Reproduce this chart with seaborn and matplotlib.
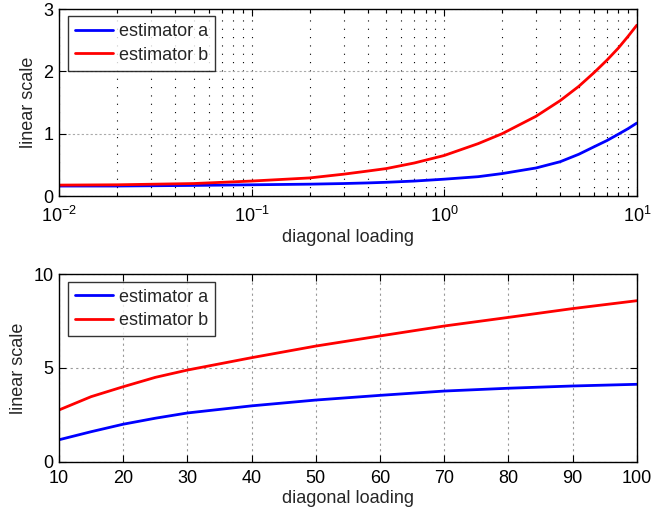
import numpy as np
import pandas as pd
import matplotlib
matplotlib.use("Agg")
import matplotlib.pyplot as plt
import seaborn as sns

# Top panel: loading on a log axis
load_log = [0.01, 0.02, 0.05, 0.1, 0.2, 0.3, 0.4, 0.5, 0.7, 1.0, 1.5, 2.0, 3.0, 4.0, 5.0, 6.0, 7.0, 8.0, 9.0, 10.0]
est_a_log = [0.16, 0.16, 0.17, 0.18, 0.19, 0.20, 0.21, 0.22, 0.24, 0.27, 0.31, 0.36, 0.45, 0.55, 0.67, 0.79, 0.89, 0.99, 1.08, 1.17]
est_b_log = [0.175, 0.18, 0.20, 0.24, 0.29, 0.35, 0.40, 0.44, 0.53, 0.65, 0.84, 1.00, 1.28, 1.53, 1.76, 1.98, 2.18, 2.37, 2.56, 2.74]

# Bottom panel: loading on a linear axis
load_lin = [10, 15, 20, 25, 30, 40, 50, 60, 70, 80, 90, 100]
est_a_lin = [1.17, 1.60, 2.00, 2.32, 2.60, 2.98, 3.29, 3.54, 3.77, 3.92, 4.04, 4.13]
est_b_lin = [2.76, 3.47, 4.00, 4.50, 4.89, 5.55, 6.17, 6.71, 7.24, 7.70, 8.17, 8.59]

series_names = ["estimator a", "estimator b"]
series_colors = {"estimator a": "#0000ff", "estimator b": "#ff0000"}

sns.set_style("ticks")
plt.rcParams["font.family"] = ["Liberation Sans", "DejaVu Sans"]
plt.rcParams["mathtext.fontset"] = "custom"
plt.rcParams["mathtext.rm"] = "Liberation Sans"
plt.rcParams["mathtext.it"] = "Liberation Sans:italic"
FS = 13


def long_frame(x, a, b):
    return pd.DataFrame({
        "x": list(x) * 2,
        "y": list(a) + list(b),
        "series": [series_names[0]] * len(x) + [series_names[1]] * len(x),
    })


def style_axes(ax, xpad):
    ax.tick_params(which="both", direction="in", top=True, right=True,
                   labelsize=FS, colors="black", width=0.8)
    ax.tick_params(which="major", length=5)
    ax.tick_params(which="minor", length=3)
    ax.tick_params(axis="x", which="both", pad=xpad)
    ax.tick_params(axis="y", which="both", pad=4)
    for sp in ax.spines.values():
        sp.set_visible(True)
        sp.set_color("black")
        sp.set_linewidth(1.0)
    ax.set_xlabel("diagonal loading", fontsize=FS, labelpad=2)
    ax.set_ylabel("linear scale", fontsize=FS, labelpad=4.5)
    leg = ax.legend(loc="upper left", bbox_to_anchor=(0.015, 0.96),
                    borderaxespad=0, fontsize=FS, frameon=True, fancybox=False,
                    edgecolor="black", handlelength=2.15, handletextpad=0.3,
                    borderpad=0.38, labelspacing=0.35)
    leg.get_frame().set_linewidth(1.0)
    for line in leg.get_lines():
        line.set_linewidth(2.0)


fig = plt.figure(figsize=(6.52, 5.15), dpi=100)
ax1 = fig.add_axes([0.0905, 0.6194, 0.8862, 0.3631])
ax2 = fig.add_axes([0.0905, 0.1035, 0.8862, 0.3639])

# Top panel
sns.lineplot(data=long_frame(load_log, est_a_log, est_b_log), x="x", y="y",
             hue="series", palette=series_colors, linewidth=2.0, ax=ax1)
ax1.set_xscale("log")
ax1.set_xlim(0.01, 10)
ax1.set_ylim(0, 3)
ax1.set_yticks([0, 1, 2, 3])
ax1.xaxis.set_minor_locator(matplotlib.ticker.LogLocator(base=10, subs=np.arange(2, 10)))
ax1.xaxis.set_minor_formatter(matplotlib.ticker.NullFormatter())
ax1.grid(True, which="both", axis="x", linestyle=(0, (1, 6.5)), color="black", linewidth=0.8)
ax1.grid(True, which="major", axis="y", linestyle=(0, (2, 2)), color="#aaaaaa", linewidth=0.8)
ax1.set_axisbelow(True)
style_axes(ax1, xpad=7)

# Bottom panel
sns.lineplot(data=long_frame(load_lin, est_a_lin, est_b_lin), x="x", y="y",
             hue="series", palette=series_colors, linewidth=2.0, ax=ax2)
ax2.set_xlim(10, 100)
ax2.set_ylim(0, 10)
ax2.set_xticks(np.arange(10, 101, 10))
ax2.set_yticks([0, 5, 10])
ax2.grid(True, which="major", linestyle=(0, (2, 3)), color="#999999", linewidth=0.8)
ax2.set_axisbelow(True)
style_axes(ax2, xpad=6)

fig.savefig("out.png", dpi=100)
